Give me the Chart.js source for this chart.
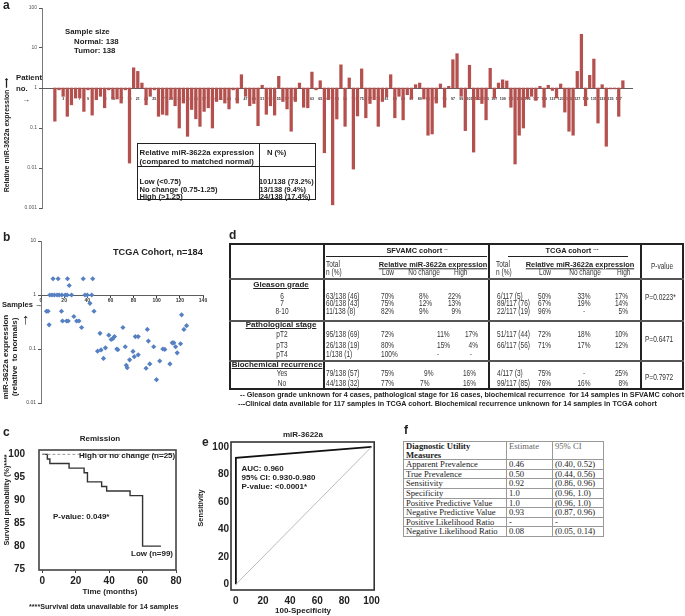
<!DOCTYPE html>
<html>
<head>
<meta charset="utf-8">
<script src="https://cdn.jsdelivr.net/npm/chart.js@4.4.1/dist/chart.umd.min.js"></script>
<style>
body{margin:0;width:685px;height:616px;position:relative;overflow:hidden;background:#fff;font-family:"Liberation Sans",Arial,sans-serif;color:#222}
canvas{position:absolute}
.t{position:absolute;white-space:nowrap;line-height:1;transform:translateY(-50%)}
.ln{position:absolute;background:#222}
sup{font-size:70%;vertical-align:top;line-height:1}
#tf{position:absolute;left:403px;top:441px;border-collapse:collapse;font-family:"Liberation Serif","DejaVu Serif",serif;font-size:8.6px;color:#222}
#tf td{border:1px solid #999;padding:0 2px;height:8.6px;line-height:8.6px;white-space:nowrap}
</style>
</head>
<body>
<canvas id="ca" width="640" height="216" style="left:0;top:0"></canvas>
<canvas id="cb" width="215" height="172" style="left:0;top:236px"></canvas>
<canvas id="cc" width="185" height="160" style="left:0;top:430px"></canvas>
<canvas id="ce" width="185" height="180" style="left:200px;top:430px"></canvas>

<table id="tf">
<tr><td style="width:98px;height:16px;line-height:8.6px;font-weight:bold">Diagnostic Utility<br>Measures</td><td style="width:41px;vertical-align:top;color:#666">Estimate</td><td style="width:46px;vertical-align:top;color:#666">95% CI</td></tr>
</table>

<script>
// a: tumor / matched normal ratio, one bar per patient
const ratioA = [
0.148,0.9,0.62,0.196,0.38,0.56,0.56,0.26,0.9,0.21,
0.51,0.62,0.32,0.9,0.54,0.53,0.42,0.9,0.0133,3.2,
2.6,1.33,0.38,0.62,0.9,0.196,0.22,0.21,0.53,0.36,
0.1,0.42,0.062,0.29,0.17,0.11,0.26,0.32,0.1,0.46,
0.51,0.42,0.30,0.9,0.42,2.15,0.62,0.36,0.41,0.114,
1.17,0.22,0.36,0.21,1.96,0.46,0.30,0.083,0.46,1.33,
0.33,0.32,2.5,0.9,1.52,0.024,0.51,0.0012,0.168,3.8,
0.11,1.78,0.0094,0.2,3.0,0.18,0.41,0.51,0.11,0.46,
0.6,2.15,0.18,0.62,0.16,0.68,0.53,1.21,1.33,0.53,
0.066,0.071,0.42,1.26,0.33,1.1,5.1,7.2,0.62,0.086,
3.7,0.025,0.51,0.41,0.16,3.1,0.56,1.33,1.6,1.5,
0.33,0.0126,0.066,0.1,0.54,0.62,0.49,1.1,0.33,1.17,
0.87,0.56,1.26,0.25,0.083,0.066,2.6,22,0.36,2.07,
5.3,0.133,1.21,0.035,0.95,0.95,0.196,1.52];
const patientId = ratioA.map((v, i) => i + 1);
const patientTicks = patientId.filter(n => n % 2 === 1);
const decadesA = [0.001, 0.01, 0.1, 1, 10, 100];

// b: TCGA cohort samples
const tcgaX = [7.6,9.6,11.6,13.9,15.7,18,20.9,22.6,26.4,38,40,43.8,
  10.4,14.8,22.9,36.5,44.7,24.4,4.7,6.1,17.7,45.8,42.3,7,18.6,22.1,23.5,32.8,28.4,35.1,30.8,
  51,48.9,51.9,54,55.7,58.6,60.6,62,63.5,65.5,66.4,70.8,72.8,73.7,74.5,76.6,79.5,80.6,81.5,84,84,
  90.8,91.9,92.8,94,97.4,99.8,102.6,105.3,107,111.4,113.4,114.8,116.3,117.7,120.6,121.5,123.5,125.8];
const tcgaY = [1,1,1,1,1,1,1,1,1,1,1,1,
  2,2,2,2,2,1.5,0.5,0.5,0.5,0.5,0.7,0.28,0.33,0.33,0.33,0.33,0.4,0.25,0.33,
  0.195,0.091,0.096,0.067,0.105,0.18,0.15,0.155,0.17,0.1,0.097,0.25,0.11,0.05,0.045,0.063,0.09,0.072,0.17,0.17,0.078,
  0.044,0.23,0.14,0.053,0.11,0.027,0.06,0.1,0.098,0.053,0.13,0.13,0.11,0.085,0.125,0.43,0.23,0.27];
const decadesB = [0.01, 0.1, 1, 10];
const samplesTicks = [0, 20, 40, 60, 80, 100, 120, 140];

// c: remission curves
const lowT = [0, 3, 4.5, 16, 25, 27, 35.5, 38.5, 52.5, 60, 71];
const lowS = [100, 99, 98, 97, 96, 94, 93, 92, 91, 80, 80];
const highT = [0, 78];
const highS = [100, 100];
const monthTicks = [0, 20, 40, 60, 80];
const survTicks = [75, 80, 85, 90, 95, 100];

// e: ROC curve
const rocX = [0, 0, 100];
const rocY = [0, 92, 100];
const diagX = [0, 100];
const diagY = [0, 100];
const pctTicks = [0, 20, 40, 60, 80, 100];

// f: diagnostic utility table
const fMeasures = ['Apparent Prevalence','True Prevalence','Sensitivity','Specificity','Positive Predictive Value','Negative Predictive Value','Positive Likelihood Ratio','Negative Likelihood Ratio'];
const fEstimate = ['0.46','0.50','0.92','1.0','1.0','0.93','-','0.08'];
const fCI = ['(0.40, 0.52)','(0.44, 0.56)','(0.86, 0.96)','(0.96, 1.0)','(0.96, 1.0)','(0.87, 0.96)','-','(0.05, 0.14)'];

Chart.defaults.font.family = '"Liberation Sans", Arial, sans-serif';
Chart.defaults.color = '#222';
Chart.defaults.animation = false;
Chart.defaults.plugins.legend.display = false;
Chart.defaults.plugins.tooltip.enabled = false;

const boxPlugin = {
  id: 'box',
  afterDraw(chart, args, opts) {
    if (!opts.on) return;
    const {ctx, chartArea: a} = chart;
    ctx.save();
    ctx.strokeStyle = opts.color || '#333';
    ctx.lineWidth = opts.width || 1.5;
    ctx.strokeRect(a.left, a.top, a.right - a.left, a.bottom - a.top);
    ctx.restore();
  }
};
const setTicks = list => scale => { scale.ticks = list.map(v => ({value: v})); };

// panel a
new Chart(document.getElementById('ca'), {
  type: 'bar',
  data: {
    datasets: [{
      data: ratioA.map((v, i) => ({x: patientId[i], y: [1, v]})),
      backgroundColor: '#b4504d',
      barThickness: 2.6
    }]
  },
  options: {
    responsive: false, devicePixelRatio: 1,
    layout: {padding: {top: 8, bottom: 8, right: 8, left: 0}},
    scales: {
      x: {
        type: 'linear', position: {y: 1}, min: -1.07, max: 139.17,
        afterBuildTicks: setTicks(patientTicks),
        grid: {display: false},
        border: {color: '#333', width: 0.8},
        ticks: {font: {size: 3.6, weight: 'bold'}, padding: 1, maxRotation: 0, autoSkip: false, color: '#333'}
      },
      y: {
        type: 'logarithmic', min: 0.001, max: 100,
        afterBuildTicks: setTicks(decadesA),
        afterFit: s => { s.width = 42; },
        grid: {drawOnChartArea: false, tickLength: 3, color: '#555'},
        border: {color: '#555', width: 0.8},
        ticks: {font: {size: 5}, color: '#555', padding: 2, callback: v => String(v)}
      }
    }
  }
});

// panel b
new Chart(document.getElementById('cb'), {
  type: 'scatter',
  data: {
    datasets: [{
      data: tcgaX.map((x, i) => ({x: x, y: tcgaY[i]})),
      pointStyle: 'rectRot', pointRadius: 2.6,
      backgroundColor: '#5680c2', borderColor: '#5680c2', borderWidth: 0
    }]
  },
  options: {
    responsive: false, devicePixelRatio: 1,
    layout: {padding: {top: 5, bottom: 5, right: 12, left: 0}},
    scales: {
      x: {
        type: 'linear', position: {y: 1}, min: 0, max: 140,
        afterBuildTicks: setTicks(samplesTicks),
        grid: {drawOnChartArea: false, tickLength: 2, color: '#333'},
        border: {color: '#333', width: 0.8},
        ticks: {font: {size: 5, weight: 'bold'}, padding: 1, maxRotation: 0, color: '#333'}
      },
      y: {
        type: 'logarithmic', min: 0.01, max: 10,
        afterBuildTicks: setTicks(decadesB),
        afterFit: s => { s.width = 41; },
        grid: {drawOnChartArea: false, tickLength: 3, color: '#555'},
        border: {color: '#555', width: 0.8},
        ticks: {font: {size: 5}, color: '#444', padding: 2, callback: v => String(v)}
      }
    }
  }
});

// panel c
new Chart(document.getElementById('cc'), {
  type: 'scatter',
  data: {
    datasets: [
      {data: highT.map((x, i) => ({x: x, y: highS[i]})), showLine: true, pointRadius: 0,
       borderColor: '#999', borderWidth: 1, borderDash: [3, 2]},
      {data: lowT.map((x, i) => ({x: x, y: lowS[i]})), showLine: true, stepped: true, pointRadius: 0,
       borderColor: '#333', borderWidth: 1.4}
    ]
  },
  options: {
    responsive: false, devicePixelRatio: 1,
    layout: {padding: {top: 13, bottom: 0, right: 9, left: 0}},
    plugins: {box: {on: true, color: '#444', width: 1.6}},
    scales: {
      x: {
        type: 'linear', min: -2, max: 80,
        afterBuildTicks: setTicks(monthTicks),
        afterFit: s => { s.height = 20; },
        grid: {drawOnChartArea: false, tickLength: 3, color: '#444'},
        border: {display: false},
        ticks: {font: {size: 10, weight: 'bold'}, padding: 2, maxRotation: 0}
      },
      y: {
        type: 'linear', min: 74.8, max: 100.95,
        afterBuildTicks: setTicks(survTicks),
        afterFit: s => { s.width = 39; },
        grid: {drawOnChartArea: false, drawTicks: false},
        border: {display: false},
        ticks: {font: {size: 10, weight: 'bold'}, padding: 14}
      }
    }
  },
  plugins: [boxPlugin]
});

// panel e
new Chart(document.getElementById('ce'), {
  type: 'scatter',
  data: {
    datasets: [
      {data: diagX.map((x, i) => ({x: x, y: diagY[i]})), showLine: true, pointRadius: 0,
       borderColor: '#aaa', borderWidth: 0.8},
      {data: rocX.map((x, i) => ({x: x, y: rocY[i]})), showLine: true, pointRadius: 0,
       borderColor: '#111', borderWidth: 1.8}
    ]
  },
  options: {
    responsive: false, devicePixelRatio: 1,
    layout: {padding: {top: 12, bottom: 0, right: 9, left: 0}},
    plugins: {box: {on: true, color: '#333', width: 1.6}},
    scales: {
      x: {
        type: 'linear', min: -3.6, max: 102,
        afterBuildTicks: setTicks(pctTicks),
        afterFit: s => { s.height = 20; },
        grid: {drawOnChartArea: false, drawTicks: false},
        border: {display: false},
        ticks: {font: {size: 10, weight: 'bold'}, padding: 5, maxRotation: 0}
      },
      y: {
        type: 'linear', min: -4.1, max: 103.6,
        afterBuildTicks: setTicks(pctTicks),
        afterFit: s => { s.width = 31; },
        grid: {drawOnChartArea: false, drawTicks: false},
        border: {display: false},
        ticks: {font: {size: 10, weight: 'bold'}, padding: 2}
      }
    }
  },
  plugins: [boxPlugin]
});

// text helpers
function put(x, y, html, css, align, sx) {
  const d = document.createElement('div');
  d.className = 't';
  d.innerHTML = html;
  d.style.cssText = 'left:' + x + 'px;top:' + y + 'px;' + (css || '');
  const k = sx ? ' scaleX(' + sx + ')' : '';
  if (align === 'c') { d.style.transform = 'translate(-50%,-50%)' + k; d.style.transformOrigin = 'center center'; }
  else if (align === 'r') { d.style.transform = 'translate(-100%,-50%)' + k; d.style.transformOrigin = 'right center'; }
  else { d.style.transform = 'translateY(-50%)' + k; d.style.transformOrigin = 'left center'; }
  document.body.appendChild(d);
  return d;
}
function vput(x, y, html, css) {
  const d = put(x, y, html, css);
  d.style.transform = 'translate(-50%,-50%) rotate(-90deg)';
  d.style.transformOrigin = 'center center';
  return d;
}
function line(x, y, w, h, color) {
  const d = document.createElement('div');
  d.className = 'ln';
  d.style.cssText = 'left:' + x + 'px;top:' + y + 'px;width:' + w + 'px;height:' + h + 'px;' + (color ? 'background:' + color : '');
  document.body.appendChild(d);
}
const B = 'font-weight:bold;';
const PL = 'font-weight:bold;font-size:12px;';

// panel a text
put(3, 5, 'a', PL);
put(65, 31.5, 'Sample size', B + 'font-size:7.8px');
put(74, 41.5, 'Normal: 138', B + 'font-size:7.8px');
put(74, 50.5, 'Tumor: 138', B + 'font-size:7.8px');
put(16, 78, 'Patient', B + 'font-size:7.8px');
put(16, 88.5, 'no.', B + 'font-size:7.8px');
put(22, 100, '&#8594;', B + 'font-size:8px');
vput(6, 135, 'Relative miR-3622a expression &#10230;', B + 'font-size:7px');
line(137, 143, 179, 1); line(137, 199, 179, 1); line(137, 143, 1, 57); line(315, 143, 1, 57);
line(259, 143, 1, 57); line(137, 166, 179, 1);
put(139.5, 153, 'Relative miR-3622a expression', B + 'font-size:7.8px');
put(139.5, 162, '(compared to matched normal)', B + 'font-size:7.8px');
put(267, 153, 'N (%)', B + 'font-size:7.6px');
put(139.5, 181.5, 'Low (&lt;0.75)', B + 'font-size:7.6px');
put(139.5, 189.5, 'No change (0.75-1.25)', B + 'font-size:7.6px');
put(139.5, 197, 'High (&gt;1.25)', B + 'font-size:7.6px');
put(259, 181.5, '101/138 (73.2%)', B + 'font-size:7.4px');
put(259.5, 189.5, '13/138 (9.4%)', B + 'font-size:7.4px');
put(260, 197, '24/138 (17.4%)', B + 'font-size:7.4px');

// panel b text
put(3, 237, 'b', PL);
put(113, 253, 'TCGA Cohort, n=184', B + 'font-size:9.2px');
put(2, 305, 'Samples &#8594;', B + 'font-size:7.5px');
put(22, 318, '&#8593;', 'font-size:15px');
vput(6, 357, 'miR-3622a expression', B + 'font-size:8px');
vput(15, 357, '(relative &nbsp;to normals)', B + 'font-size:8px');

// panel c text
put(3, 432, 'c', PL);
put(100, 438.5, 'Remission', 'font-size:8px;font-weight:600', 'c');
put(79, 456, 'High or no change (n=25)', B + 'font-size:8px');
put(53, 517, 'P-value: 0.049*', B + 'font-size:8px');
put(131, 553.5, 'Low (n=99)', B + 'font-size:8px');
put(110, 592, 'Time (months)', B + 'font-size:8px', 'c');
put(29, 607, '****Survival data unavailable for 14 samples', B + 'font-size:7.2px');
vput(6.5, 500, 'Survival probability (%)****', B + 'font-size:7.2px');

// panel e text
put(202, 441.5, 'e', PL);
put(303, 435, 'miR-3622a', 'font-size:8px;font-weight:600', 'c');
put(241.5, 468.5, 'AUC: 0.960', B + 'font-size:8px');
put(241.5, 477.5, '95% CI: 0.930-0.980', B + 'font-size:8px');
put(241.5, 486.5, 'P-value: &lt;0.0001*', B + 'font-size:8px');
put(303, 611, '100-Specificity', B + 'font-size:8px', 'c');
vput(200.5, 508, 'Sensitivity', B + 'font-size:7.5px');

// panel f
put(404, 430, 'f', PL);
const tf = document.getElementById('tf');
fMeasures.forEach((m, i) => {
  const tr = tf.insertRow();
  [m, fEstimate[i], fCI[i]].forEach(s => { const c = tr.insertCell(); c.textContent = s; });
});

// panel d
put(229, 235, 'd', PL);
line(229, 243, 455, 2); line(229, 388, 455, 2); line(229, 243, 2, 147); line(682, 243, 2, 147);
line(323, 243, 2, 147); line(488, 243, 1.5, 147); line(640, 243, 1.5, 147);
line(229, 278, 455, 2, '#555'); line(229, 319.5, 455, 2, '#555'); line(229, 359.5, 455, 2, '#555');
line(326, 256, 161, 0.8); line(508, 256, 120, 0.8);
const S = 'font-size:8.2px;color:#333;';
const NX = 0.8;   // condensed look of the table body font
const SB = 'font-size:7.4px;font-weight:bold;';
put(417, 250.5, 'SFVAMC cohort <sup>--</sup>', SB, 'c');
put(572, 250.5, 'TCGA cohort <sup>---</sup>', SB, 'c');
put(433, 264.5, 'Relative miR-3622a expression', SB + 'text-decoration:underline', 'c');
put(580, 264.5, 'Relative miR-3622a expression', SB + 'text-decoration:underline', 'c');
put(326, 264.5, 'Total', S, 'l', NX); put(326, 272.5, 'n (%)', S, 'l', NX);
put(496, 264.5, 'Total', S, 'l', NX); put(496, 272.5, 'n (%)', S, 'l', NX);
put(382, 272.5, 'Low', S, 'l', NX); put(424, 272.5, 'No change', S, 'c', NX); put(454, 272.5, 'High', S, 'l', NX);
put(539, 272.5, 'Low', S, 'l', NX); put(585, 272.5, 'No change', S, 'c', NX); put(617, 272.5, 'High', S, 'l', NX);
put(662, 267, 'P-value', S, 'c', NX);

const SG = 'font-size:8px;font-weight:bold;text-decoration:underline;';
put(281, 284.5, 'Gleason grade', SG, 'c');
put(281, 324.5, 'Pathological stage', SG, 'c');
put(277, 364.5, 'Biochemical recurrence', SG, 'c');

const rowY = [296.5, 304, 311.5, 335, 345.5, 355, 373.5, 383.5];
const rowLab = ['6', '7', '8-10', 'pT2', 'pT3', 'pT4', 'Yes', 'No'];
const sfTotal = ['63/138 (46)','60/138 (43)','11/138 (8)','95/138 (69)','26/138 (19)','1/138 (1)','79/138 (57)','44/138 (32)'];
const sfLow = ['70%','75%','82%','72%','80%','100%','75%','77%'];
const sfNo = ['8%','12%','9%','11%','15%','-','9%','7%'];
const sfNoX = [419, 419, 419, 437, 437, 437, 424, 420];
const sfHigh = ['22%','13%','9%','17%','4%','-','16%','16%'];
const sfHighR = [461, 461, 461, 478, 478, 472, 476, 476];
rowY.forEach((y, i) => {
  put(282, y, rowLab[i], S, 'c', NX);
  put(326, y, sfTotal[i], S, 'l', NX);
  put(381, y, sfLow[i], S, 'l', NX);
  put(sfNoX[i], y, sfNo[i], S, 'l', NX);
  put(sfHighR[i], y, sfHigh[i], S, 'r', NX);
});
const tcRows = [0, 1, 2, 3, 4, 6, 7];
const tcTotal = ['6/117 (5)','89/117 (76)','22/117 (19)','51/117 (44)','66/117 (56)','4/117 (3)','99/117 (85)'];
const tcLow = ['50%','67%','96%','72%','71%','75%','76%'];
const tcNo = ['33%','19%','-','18%','17%','-','16%'];
const tcHigh = ['17%','14%','5%','10%','12%','25%','8%'];
tcRows.forEach((r, i) => {
  const y = rowY[r];
  put(497, y, tcTotal[i], S, 'l', NX);
  put(538, y, tcLow[i], S, 'l', NX);
  put(584, y, tcNo[i], S, 'c', NX);
  put(628, y, tcHigh[i], S, 'r', NX);
});
put(645, 298, 'P=0.0223*', S, 'l', NX);
put(645, 340, 'P=0.6471', S, 'l', NX);
put(645, 378, 'P=0.7972', S, 'l', NX);
put(240, 395, '-- Gleason grade unknown for 4 cases, pathological stage for 16 cases, biochemical recurrence &nbsp;for 14 samples in SFVAMC cohort', B + 'font-size:7.2px');
put(238, 403.5, '---Clinical data available for 117 samples in TCGA cohort. Biochemical recurrence unknown for 14 samples in TCGA cohort', B + 'font-size:7.2px');
</script>
</body>
</html>
